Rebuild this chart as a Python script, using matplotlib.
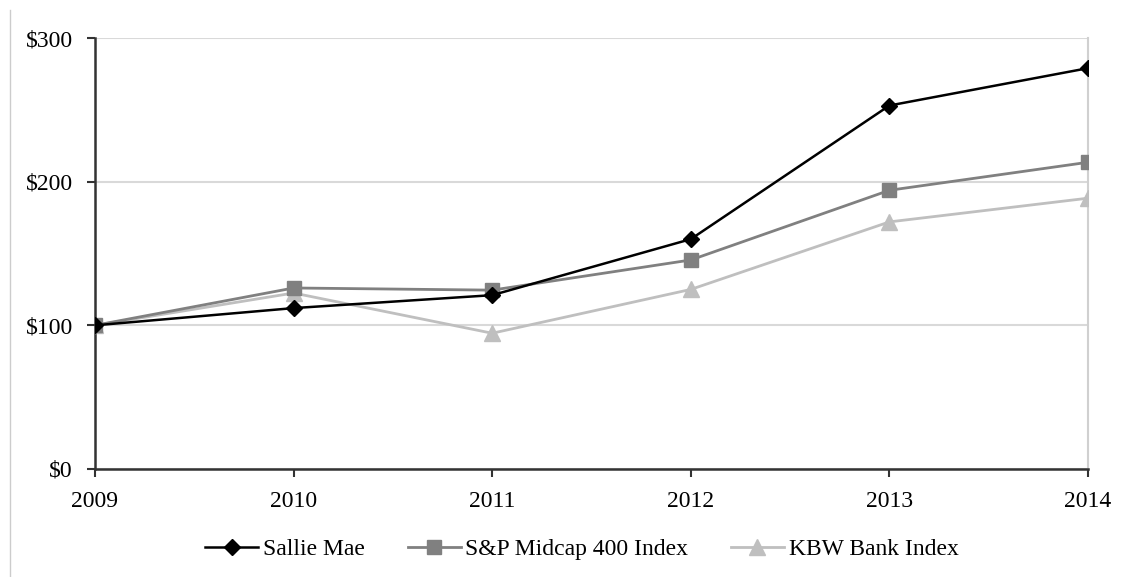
import matplotlib.pyplot as plt
from matplotlib.lines import Line2D

years = [2009, 2010, 2011, 2012, 2013, 2014]
sallie_mae = [100, 112, 121, 160, 253, 279]
sp_midcap = [100, 126, 124.5, 145.5, 194, 213.5]
kbw_bank = [100, 122.5, 94.5, 125, 172, 188.5]

y_ticks = [0, 100, 200, 300]
y_labels = ['$0', '$100', '$200', '$300']

plt.rcParams['font.family'] = ['Liberation Serif', 'DejaVu Serif']

fig = plt.figure(figsize=(11.28, 5.77), dpi=100)
ax = fig.add_axes([95 / 1128, 1 - 469 / 577, (1088 - 95) / 1128, (469 - 38) / 577])

ax.plot(years, kbw_bank, color='#BFBFBF', lw=2, marker='^', ms=11, label='KBW Bank Index', zorder=3)
ax.plot(years, sp_midcap, color='#808080', lw=2, marker='s', ms=10, label='S&P Midcap 400 Index', zorder=4)
ax.plot(years, sallie_mae, color='black', lw=1.8, marker='D', ms=8.5, label='Sallie Mae', zorder=5)

ax.set_xlim(years[0], years[-1])
ax.set_ylim(0, 300)
ax.set_xticks(years)
ax.set_yticks(y_ticks)
ax.set_yticklabels(y_labels)
ax.tick_params(labelsize=17, length=6, width=1.5, color='#333333')
ax.tick_params(axis='x', pad=10)
ax.tick_params(axis='y', pad=10)
ax.yaxis.grid(True, color='#D9D9D9', lw=1.5)
ax.set_axisbelow(True)

for side in ['left', 'bottom']:
    ax.spines[side].set_color('#333333')
    ax.spines[side].set_linewidth(1.8)
ax.spines['right'].set_color('#D0D0D0')
ax.spines['right'].set_linewidth(1.5)
ax.spines['top'].set_visible(False)

# legend in the original order
handles, labels = ax.get_legend_handles_labels()
order = [2, 1, 0]
fig.legend([handles[i] for i in order], [labels[i] for i in order],
           loc='center', bbox_to_anchor=(582 / 1128, 1 - 549 / 577), ncol=3, frameon=False,
           fontsize=17, handlelength=2.25, handletextpad=0.2, columnspacing=1.8)

# thin frame line at the left edge
fig.add_artist(Line2D([10 / 1128, 10 / 1128], [0, 1 - 10 / 577], color='#CCCCCC', lw=1))

fig.savefig('out.png', dpi=100)
